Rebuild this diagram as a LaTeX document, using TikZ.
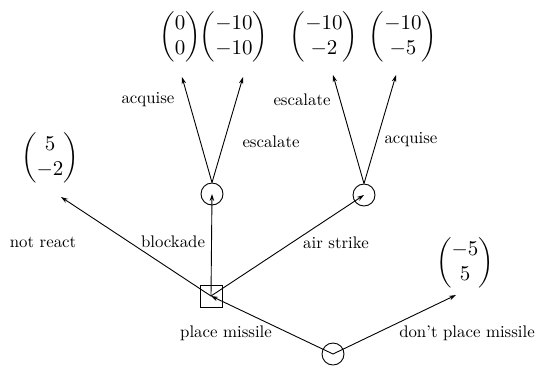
\documentclass[tikz,border=0pt]{standalone}
\usepackage{amsmath}
\usetikzlibrary{arrows.meta}
\begin{document}
\begin{tikzpicture}[x=1pt,y=-1pt,
  edge/.style={line width=0.9pt,-{Stealth[length=7pt,width=4.5pt]}},
  chance/.style={circle,draw,line width=0.9pt,minimum size=22pt,inner sep=0pt},
  dec/.style={rectangle,draw,line width=0.9pt,minimum size=22pt,inner sep=0pt},
  lbl/.style={scale=1.68,inner sep=0pt},
  pay/.style={scale=2.1,inner sep=0pt}]
\useasboundingbox (0,0) rectangle (537,368);
% decision nodes
\node[chance] (root) at (333,354) {};
\node[dec] (sq) at (211,296) {};
\node[chance] (c1) at (212,194) {};
\node[chance] (c2) at (364,195) {};
% payoffs
\node[pay] (m1) at (180,37) {$\begin{pmatrix}0\\0\end{pmatrix}$};
\node[pay] (m2) at (234,37) {$\begin{pmatrix}-10\\-10\end{pmatrix}$};
\node[pay] (m3) at (324,37) {$\begin{pmatrix}-10\\-2\end{pmatrix}$};
\node[pay] (m4) at (403,37) {$\begin{pmatrix}-10\\-5\end{pmatrix}$};
\node[pay] (m5) at (50,158) {$\begin{pmatrix}5\\-2\end{pmatrix}$};
\node[pay] (m6) at (465,263) {$\begin{pmatrix}-5\\5\end{pmatrix}$};
% arrow tips
\coordinate (t1) at (182,77);
\coordinate (t2) at (243,77);
\coordinate (t3) at (333,75);
\coordinate (t4) at (396,75);
\coordinate (t5) at (61,197);
\coordinate (t6) at (456,295);
% edges
\draw[edge] (root.center) -- (sq.center);
\draw[edge] (root.center) -- (t6);
\draw[edge] (sq.center) -- (t5);
\draw[edge] (sq.center) -- (c1.center);
\draw[edge] (sq.center) -- (c2.center);
\draw[edge] (c1.north) -- (t1);
\draw[edge] (c1.north) -- (t2);
\draw[edge] (c2.north) -- (t3);
\draw[edge] (c2.north) -- (t4);
% labels
\node[lbl] (l1) at (148,100) {acquise};
\node[lbl] (l2) at (271,142) {escalate};
\node[lbl] (l3) at (302,100) {escalate};
\node[lbl] (l4) at (411,140) {acquise};
\node[lbl] (l5) at (43,242) {not react};
\node[lbl] (l6) at (173,242) {blockade};
\node[lbl] (l7) at (336,243) {air strike};
\node[lbl] (l8) at (226,333) {place missile};
\node[lbl] (l9) at (467,333) {don't place missile};
\end{tikzpicture}
\end{document}
